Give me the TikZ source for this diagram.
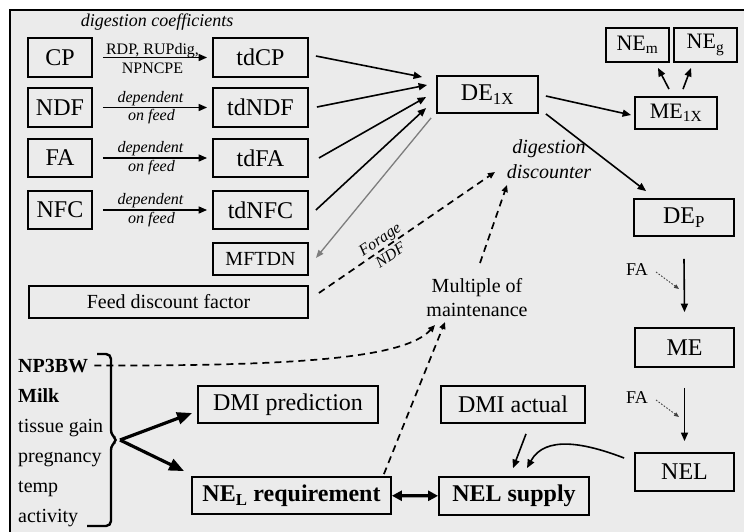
\documentclass[tikz,border=0pt]{standalone}
\usepackage{fontspec}
\setmainfont{Liberation Serif}
\usetikzlibrary{arrows.meta,calc}
\definecolor{bg}{RGB}{235,235,235}
\definecolor{lgrey}{RGB}{125,125,125}
\begin{document}
\begin{tikzpicture}[x=1pt,y=-1pt,
  box/.style={draw=black, line width=1.8pt, inner sep=0pt, font=\fontsize{24}{28}\selectfont},
  midbox/.style={box, font=\fontsize{20}{24}\selectfont},
  arr/.style={-{Triangle[length=8.5pt,width=7pt]}, line width=1.6pt},
  thickarr/.style={-{Triangle[length=15pt,width=12pt]}, line width=3.2pt},
  dblarr/.style={{Triangle[length=10pt,width=10pt]}-{Triangle[length=10pt,width=10pt]}, line width=3.2pt},
  dsh/.style={line width=1.7pt, dash pattern=on 7pt off 5pt},
  dsharr/.style={dsh, -{Triangle[length=7pt,width=6pt]}},
  dotarr/.style={line width=0.9pt, draw=black!75, dash pattern=on 1.6pt off 1.6pt, -{Triangle[length=5pt,width=4pt]}},
  greyarr/.style={draw=lgrey, line width=1.3pt, -{Triangle[length=8pt,width=6pt]}},
  edgelbl/.style={inner sep=0pt, font=\fontsize{16}{18}\selectfont\itshape},
  edgelblup/.style={inner sep=0pt, font=\fontsize{16}{18}\selectfont},
  plain/.style={inner sep=0pt, align=center},
  listtxt/.style={inner sep=0pt, anchor=base west, font=\fontsize{20}{24}\selectfont}
]
\useasboundingbox (0,0) rectangle (744,531);
\fill[white] (0,0) rectangle (744,531);
\draw[fill=bg, line width=2pt] (10,10) rectangle (770,560);

% left column
\node[box, minimum width=64pt, minimum height=39pt] (cp)  at (60,57.5) {CP};
\node[box, minimum width=64pt, minimum height=39pt] (ndf) at (60,107.5) {NDF};
\node[box, minimum width=64pt, minimum height=38pt] (fa)  at (60,158) {FA};
\node[box, minimum width=64pt, minimum height=38pt] (nfc) at (60,210) {NFC};
% td column
\node[box, minimum width=95pt, minimum height=39pt] (tdcp)  at (260.5,57.5) {tdCP};
\node[box, minimum width=95pt, minimum height=39pt] (tdndf) at (260.5,107.5) {tdNDF};
\node[box, minimum width=95pt, minimum height=38pt] (tdfa)  at (260.5,158) {tdFA};
\node[box, minimum width=95pt, minimum height=38pt] (tdnfc) at (260.5,210) {tdNFC};
\node[midbox, minimum width=95pt, minimum height=32pt] (mftdn) at (260.5,259) {MFTDN};
\node[midbox, minimum width=279pt, minimum height=32pt] (feed) at (168.5,302) {Feed discount factor};

\node[plain, font=\fontsize{18}{20}\selectfont\itshape] (dcoef) at (157,22) {digestion coefficients};

% right part
\node[box, minimum width=101pt, minimum height=37pt] (de1x) at (487.5,94.5) {DE\textsubscript{1X}};
\node[box, minimum width=82pt, minimum height=32pt, font=\fontsize{22}{26}\selectfont] (me1x) at (676,113) {ME\textsubscript{1X}};
\node[box, minimum width=63pt, minimum height=34pt, font=\fontsize{22}{26}\selectfont] (nem) at (637.5,45) {NE\textsubscript{m}};
\node[box, minimum width=63pt, minimum height=34pt, font=\fontsize{22}{26}\selectfont] (neg) at (705.5,45) {NE\textsubscript{g}};
\node[box, minimum width=100pt, minimum height=37pt] (dep) at (684,217.5) {DE\textsubscript{P}};
\node[box, minimum width=99pt, minimum height=39pt] (me)  at (684.5,347.5) {ME};
\node[box, minimum width=99pt, minimum height=38pt] (nel) at (684.5,472) {NEL};

\node[plain, font=\fontsize{20}{25}\selectfont\itshape] (dd) at (549,159) {digestion\\discounter};
\node[plain, font=\fontsize{20}{24}\selectfont] (mult) at (477,298) {Multiple of\\maintenance};
\node[plain, font=\fontsize{18}{20}\selectfont] (fa1) at (637,270) {FA};
\node[plain, font=\fontsize{18}{20}\selectfont] (fa2) at (637,398) {FA};

% bottom boxes
\node[box, minimum width=180pt, minimum height=37pt] (dmip) at (288,404.5) {DMI prediction};
\node[box, minimum width=144pt, minimum height=37pt] (dmia) at (513,404.5) {DMI actual};
\node[box, minimum width=199pt, minimum height=37pt, font=\fontsize{24}{28}\selectfont\bfseries] (nelreq) at (291.5,495.5) {NE\textsubscript{L} requirement};
\node[box, minimum width=150pt, minimum height=38pt, font=\fontsize{24}{28}\selectfont\bfseries] (nelsup) at (514,496) {NEL supply};

% list with brace
\node[listtxt, font=\fontsize{20}{24}\selectfont\bfseries] (np3bw) at (18,372) {NP3BW};
\node[listtxt, font=\fontsize{20}{24}\selectfont\bfseries] (milk) at (18,402) {Milk};
\node[listtxt] (tissue) at (18,432) {tissue gain};
\node[listtxt] (preg) at (18,462) {pregnancy};
\node[listtxt] (temp) at (18,492) {temp};
\node[listtxt] (act) at (18,522) {activity};

% dashed curve from NP3BW (under brace)
\draw[dsharr] ($(np3bw.east)+(6,0)$) .. controls (300,366) and (405,358) .. ($(mult.center)+(-42,27)$);

\draw[line width=2.4pt, rounded corners=5pt] (97,354) -- (111,354) -- (111,435) -- (118,440) -- (111,445) -- (111,526) -- (87,526);
\coordinate (bp) at (120,440);
\draw[thickarr] (bp) -- ($(dmip.west)+(-5,8.5)$);
\draw[thickarr] (bp) -- ($(nelreq.north west)+(-7,-5)$);

% feed arrows with labels
\draw[arr, shorten <=10pt, shorten >=5pt] (cp) -- (tdcp);
\node[edgelblup, anchor=base] (l1a) at ($(cp.east)!0.5!(tdcp.west)+(0,-3)$) {RDP, RUPdig,};
\node[edgelblup, anchor=base] (l1b) at ($(cp.east)!0.5!(tdcp.west)+(0,15.5)$) {NPNCPE};
\draw[arr, shorten <=10pt, shorten >=5pt] (ndf) -- (tdndf);
\node[edgelbl, anchor=base] (l2a) at ($(ndf.east)!0.5!(tdndf.west)+(-2,-5.5)$) {dependent};
\node[edgelbl, anchor=base] (l2b) at ($(ndf.east)!0.5!(tdndf.west)+(-1,13)$) {on feed};
\draw[arr, shorten <=10pt, shorten >=5pt] (fa) -- (tdfa);
\node[edgelbl, anchor=base] (l3a) at ($(fa.east)!0.5!(tdfa.west)+(-2,-5.5)$) {dependent};
\node[edgelbl, anchor=base] (l3b) at ($(fa.east)!0.5!(tdfa.west)+(-1,13)$) {on feed};
\draw[arr, shorten <=10pt, shorten >=5pt] (nfc) -- (tdnfc);
\node[edgelbl, anchor=base] (l4a) at ($(nfc.east)!0.5!(tdnfc.west)+(-2,-5.5)$) {dependent};
\node[edgelbl, anchor=base] (l4b) at ($(nfc.east)!0.5!(tdnfc.west)+(-1,13)$) {on feed};

% td -> DE1X
\draw[arr] ($(tdcp.east)+(7,-1.5)$) -- ($(de1x.west)+(-14,-17.5)$);
\draw[arr] ($(tdndf.east)+(8,-0.5)$) -- ($(de1x.west)+(-9,-9.5)$);
\draw[arr] ($(tdfa.east)+(10,0)$) -- ($(de1x.west)+(-10,2.5)$);
\draw[arr] ($(tdnfc.east)+(7,0)$) -- ($(de1x.west)+(-10,13.5)$);
\draw[greyarr] ($(de1x.south west)+(-5,4)$) -- ($(mftdn.east)+(7,-1)$);

% DE1X outputs
\draw[arr] ($(de1x.east)+(7,1.5)$) -- ($(me1x.west)+(-3,2)$);
\draw[arr] ($(de1x.south east)+(7,0)$) -- ($(dep.north west)+(13,-7)$);
\draw[arr] ($(me1x.north)+(-7,-7)$) -- ($(nem.south)+(20.5,5)$);
\draw[arr] ($(me1x.north)+(7,-7)$) -- ($(neg.south)+(-14.5,5)$);

% vertical chain
\draw[arr] ($(dep.south)+(0,22)$) -- ($(me.north)+(0,-15)$);
\draw[arr] ($(me.south)+(0,20)$) -- ($(nel.north)+(0,-11)$);
\draw[dotarr] ($(fa1.east)+(8,2)$) -- ($(fa1.east)+(31,19)$);
\draw[dotarr] ($(fa2.east)+(8,2)$) -- ($(fa2.east)+(31,19)$);

% supply
\draw[arr] ($(nel.west)+(-10,-14)$) .. controls (585,443) and (545,435) .. ($(nelsup.north)+(13,-8)$);
\draw[arr] ($(dmia.south)+(13,10)$) -- ($(nelsup.north)+(-1,-8)$);
\draw[dblarr] (nelreq) -- (nelsup);

% dashed
\draw[dsharr] ($(nelreq.north east)+(-8,-2)$) -- ($(mult.center)+(-32,24)$);
\draw[dsharr] ($(mult.center)+(3,-35)$) -- ($(dd.center)+(-42,26)$);
\draw[dsharr] ($(feed.east)+(10,-9)$) -- ($(dd.center)+(-54,13)$);
\node[plain, rotate=34, font=\fontsize{16}{19}\selectfont\itshape] (forage) at (385,247) {Forage\\NDF};
\end{tikzpicture}
\end{document}
